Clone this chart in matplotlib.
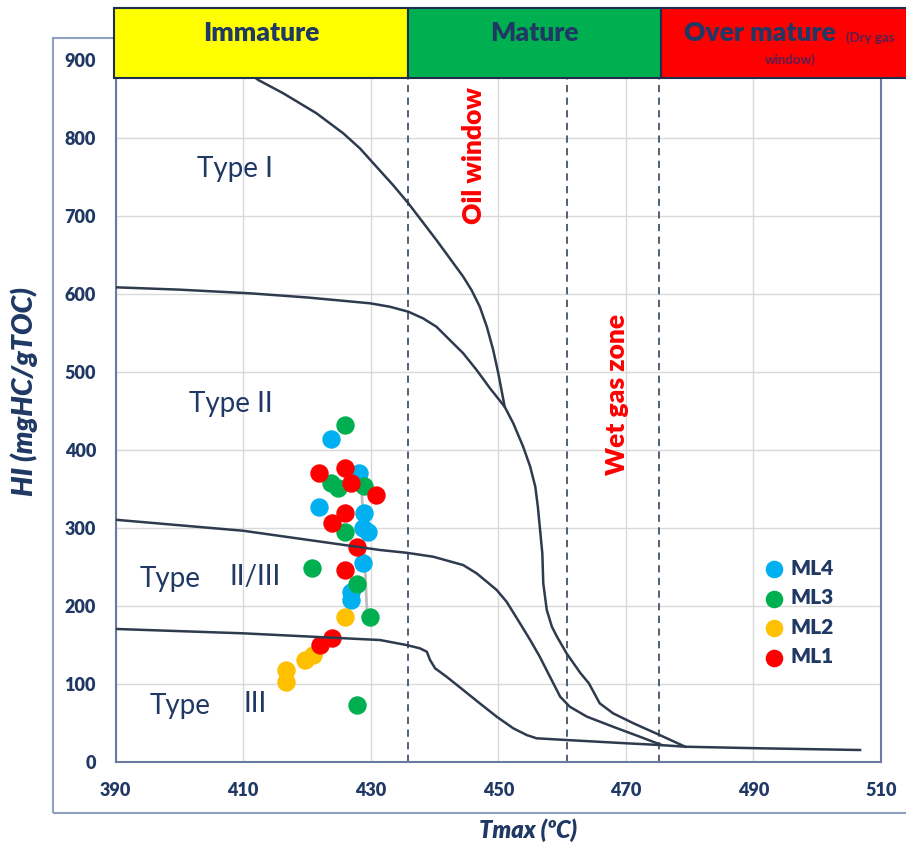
import matplotlib
matplotlib.use("Agg")
import matplotlib.pyplot as plt
from matplotlib.patches import Rectangle

plt.rcParams['font.family'] = ['Lato', 'DejaVu Sans']

NAVY = "#1F3864"
CURVE = "#2E3B4E"

# -------------------------------
# data
# -------------------------------
ml4_tmax = [423.7, 428.2, 421.9, 428.9, 428.8, 429.6, 428.8, 426.9, 426.9]
ml4_hi = [414.1, 371.3, 327.7, 319.2, 300.0, 295.6, 255.9, 218.7, 208.1]

ml3_tmax = [426.0, 423.8, 424.9, 429.0, 425.9, 420.8, 427.9, 429.9, 427.9]
ml3_hi = [432.4, 358.5, 351.3, 354.2, 295.6, 248.7, 228.6, 185.9, 73.5]

ml2_tmax = [425.9, 421.0, 419.7, 416.8, 416.8]
ml2_hi = [185.9, 137.6, 131.2, 118.3, 103.3]

ml1_tmax = [421.9, 425.9, 426.9, 430.9, 425.9, 423.9, 427.9, 425.9, 423.9, 422.1]
ml1_hi = [370.5, 377.7, 358.5, 342.7, 319.2, 307.2, 276.4, 246.5, 159.0, 150.4]

# kerogen type boundary curves
type1_t = [409.5, 412.4, 416.3, 418.9, 421.5, 425.7, 428.3, 430.9, 433.5, 435.9, 440.3,
           444.5, 445.8, 447.1, 448.2, 449.2, 450.0, 451.0]
type1_hi = [892, 874.7, 857.7, 844.9, 832.1, 806.4, 787.2, 763.6, 740.1, 716.7, 669.6,
            622.6, 605.5, 584.1, 558.5, 528.6, 498.7, 455.9]

type2_t = [390, 400, 411.1, 420, 429.9, 433.0, 435.9, 438.2, 440.3, 442.4, 444.5, 446.6,
           448.7, 451.0, 452.35, 453.9, 455.0, 455.8, 456.2, 456.5, 456.9, 457.05, 457.6,
           458.4, 459.2, 460.7, 462.9, 464.2, 465.9, 468.0, 471.2, 475.3, 479.3]
type2_hi = [609.0, 606.0, 601.3, 596.0, 588.5, 584.1, 577.7, 569.2, 558.5, 541.4, 524.4,
            503.0, 479.5, 455.9, 434.6, 404.6, 379.0, 353.3, 327.7, 302.1, 268.0, 229.5,
            195.3, 173.8, 161.0, 139.7, 114.1, 101.3, 75.6, 62.8, 50.0, 35.0, 20.0]

type23_t = [390, 410.0, 431.45, 435.6, 439.8, 444.5, 446.6, 448.2, 449.75, 451.3,
            453.4, 455.0, 456.5, 458.1, 459.7, 461.2, 463.9, 468.0, 472.2, 475.6]
type23_hi = [311, 296.9, 272.2, 268.7, 263.6, 252.9, 242.3, 231.5, 220.9, 205.9,
             178.2, 156.8, 135.4, 109.7, 84.1, 71.3, 58.5, 45.6, 32.8, 22.2]

type3_t = [390, 410.0, 431.45, 435.6, 437.7, 438.8, 439.3, 440.1, 441.9, 444.5, 447.1,
           449.75, 452.35, 454.45, 456.0, 460.7, 470.1, 475.3, 479.3, 491.0, 506.7]
type3_hi = [171, 165.4, 156.8, 150.4, 146.2, 141.8, 131.2, 120.5, 109.7, 92.7, 75.6,
            58.5, 43.6, 35.0, 30.8, 28.6, 24.4, 22.2, 20.0, 18.0, 15.8]

# grey connector seen between two points
grey_t = [428.6, 429.4]
grey_hi = [348, 195]

# maturity zones
zone_edges = [389.7, 435.9, 475.5, 515]
zone_names = ["Immature", "Mature", "Over mature"]
zone_colors = ["#FFFF00", "#00B050", "#FF0000"]
dashed_t = [435.9, 460.8, 475.2]

fig = plt.figure(figsize=(9.06, 8.46), dpi=100)

# outer chart frame, kept under the axes so the zone bar covers it
fig.add_artist(Rectangle((0.0589, 0.039), 1.0, 0.9157, transform=fig.transFigure,
                         fill=False, edgecolor="#8EA0C0", lw=1.5, zorder=-1))

ax = fig.add_axes([0.1275, 0.0989, 0.845, 0.8298])
ax.set_xlim(390, 510)
ax.set_ylim(0, 900)
ax.set_xticks(range(390, 511, 20))
ax.set_yticks(range(0, 901, 100))
ax.grid(True, color="#D9D9D9", lw=1, zorder=0)
ax.set_axisbelow(True)
ax.tick_params(length=0, pad=14, labelsize=13, labelcolor=NAVY)
for lab in ax.get_xticklabels() + ax.get_yticklabels():
    lab.set_fontweight("heavy")
for s in ax.spines.values():
    s.set_color("#6B7BA0")
    s.set_linewidth(1.5)

# dashed maturity boundaries
for t in dashed_t:
    ax.plot([t, t], [0, 877], color="#44546A", lw=1.3, ls=(0, (4, 3)), zorder=2)

# points
ax.plot(grey_t, grey_hi, color="#BFBFBF", lw=2, zorder=2)
s4 = ax.scatter(ml4_tmax, ml4_hi, s=150, color="#00B0F0", zorder=3, label="ML4")
s3 = ax.scatter(ml3_tmax, ml3_hi, s=150, color="#00B050", zorder=3, label="ML3")
s2 = ax.scatter(ml2_tmax, ml2_hi, s=150, color="#FFC000", zorder=3, label="ML2")
s1 = ax.scatter(ml1_tmax, ml1_hi, s=150, color="#FF0000", zorder=3, label="ML1")

# curves
for xs, ys in [(type1_t, type1_hi), (type2_t, type2_hi), (type23_t, type23_hi), (type3_t, type3_hi)]:
    ax.plot(xs, ys, color=CURVE, lw=1.8, zorder=4, solid_joinstyle="round")

# zone bar on top
for i in range(3):
    ax.add_patch(Rectangle((zone_edges[i], 877), zone_edges[i + 1] - zone_edges[i], 90,
                           facecolor=zone_colors[i], edgecolor="#1F2D4F", lw=1.5,
                           clip_on=False, zorder=6))
ax.text(412.8, 935, zone_names[0], ha="center", va="center", fontsize=19, fontweight="heavy",
        color=NAVY, clip_on=False, zorder=7)
ax.text(455.7, 935, zone_names[1], ha="center", va="center", fontsize=19, fontweight="heavy",
        color=NAVY, clip_on=False, zorder=7)
ax.text(491.0, 935, zone_names[2], ha="center", va="center", fontsize=19, fontweight="heavy",
        color=NAVY, clip_on=False, zorder=7)
ax.text(508.3, 929, "(Dry gas", ha="center", va="center", fontsize=9.5, fontweight="bold",
        color="#5A1E50", clip_on=False, zorder=7)
ax.text(495.7, 901, "window)", ha="center", va="center", fontsize=9.5, fontweight="bold",
        color="#5A1E50", clip_on=False, zorder=7)

# zone annotations
ax.text(446.2, 778, "Oil window", rotation=90, ha="center", va="center", fontsize=19,
        fontweight="heavy", color="#FF0000")
ax.text(468.6, 471, "Wet gas zone", rotation=90, ha="center", va="center", fontsize=19,
        fontweight="heavy", color="#FF0000")

# kerogen type labels
ax.text(408.7, 761, "Type I", ha="center", va="center", fontsize=20, color=NAVY)
ax.text(408.1, 460, "Type II", ha="center", va="center", fontsize=20, color=NAVY)
ax.text(398.5, 235, "Type", ha="center", va="center", fontsize=20, color=NAVY)
ax.text(411.9, 237, "II/III", ha="center", va="center", fontsize=20, color=NAVY)
ax.text(400.1, 72, "Type", ha="center", va="center", fontsize=20, color=NAVY)
ax.text(411.9, 75, "III", ha="center", va="center", fontsize=20, color=NAVY)

leg = ax.legend(handles=[s4, s3, s2, s1], loc="upper left", bbox_to_anchor=(0.846, 0.29),
                frameon=False, borderpad=0, borderaxespad=0, handlelength=1.0,
                handletextpad=0.3, labelspacing=0.5, markerscale=0.95,
                prop={"size": 15, "weight": "heavy"}, labelcolor=NAVY)

fig.text(0.0265, 0.537, "HI (mgHC/gTOC)", rotation=90, ha="center", va="center",
         fontsize=20.5, fontweight="heavy", fontstyle="italic", color=NAVY)
fig.text(0.583, 0.019, "Tmax (\u00baC)", ha="center", va="center",
         fontsize=17, fontweight="heavy", fontstyle="italic", color=NAVY)

fig.savefig("out.png", dpi=100)
